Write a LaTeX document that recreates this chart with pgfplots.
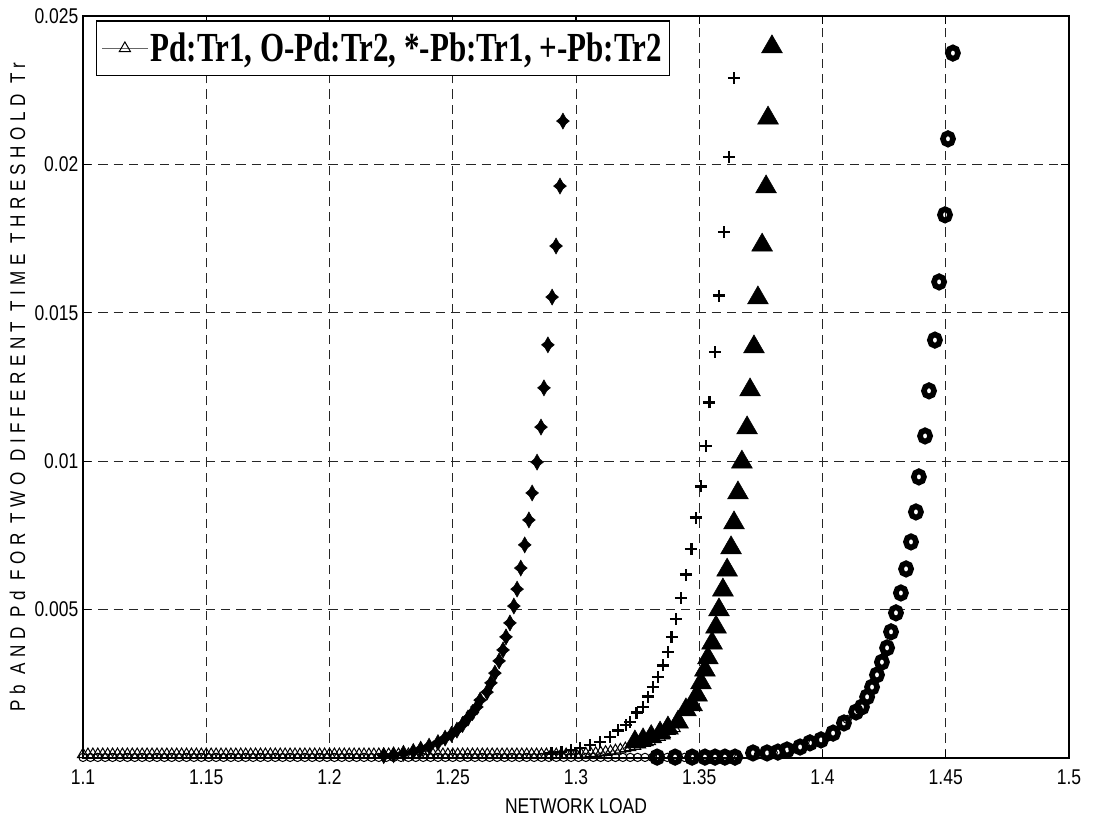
\documentclass[border=0pt]{standalone}
\usepackage{fontspec}
\setmainfont{Liberation Sans}[FakeStretch=0.82]
\newfontfamily\legfont{Liberation Serif}[FakeStretch=0.75]
\newfontfamily\ylabfont{Liberation Sans}[FakeStretch=0.8,LetterSpace=26]
\usepackage{pgfplots}
\pgfplotsset{compat=1.18}

% thick plus, as the MATLAB '+' marker looks here
\pgfdeclareplotmark{thickplus}{%
  \pgfsetlinewidth{2.1pt}%
  \pgfpathmoveto{\pgfqpoint{-\pgfplotmarksize}{0pt}}%
  \pgfpathlineto{\pgfqpoint{\pgfplotmarksize}{0pt}}%
  \pgfpathmoveto{\pgfqpoint{0pt}{-\pgfplotmarksize}}%
  \pgfpathlineto{\pgfqpoint{0pt}{\pgfplotmarksize}}%
  \pgfusepathqstroke}
% bold '*' marker: a filled four-point star
\pgfdeclareplotmark{fatstar}{%
  \pgfpathmoveto{\pgfqpoint{0pt}{\pgfplotmarksize}}%
  \pgfpathlineto{\pgfqpoint{0.36\pgfplotmarksize}{0.36\pgfplotmarksize}}%
  \pgfpathlineto{\pgfqpoint{0.8\pgfplotmarksize}{0pt}}%
  \pgfpathlineto{\pgfqpoint{0.36\pgfplotmarksize}{-0.36\pgfplotmarksize}}%
  \pgfpathlineto{\pgfqpoint{0pt}{-\pgfplotmarksize}}%
  \pgfpathlineto{\pgfqpoint{-0.36\pgfplotmarksize}{-0.36\pgfplotmarksize}}%
  \pgfpathlineto{\pgfqpoint{-0.8\pgfplotmarksize}{0pt}}%
  \pgfpathlineto{\pgfqpoint{-0.36\pgfplotmarksize}{0.36\pgfplotmarksize}}%
  \pgfpathclose
  \pgfusepathqfillstroke}

\begin{document}
\begin{tikzpicture}
\begin{axis}[
  scale only axis,
  width=739.5pt, height=556.5pt,
  xmin=1.1, xmax=1.5, ymin=0, ymax=0.025,
  xtick={1.1,1.15,1.2,1.25,1.3,1.35,1.4,1.45,1.5},
  xticklabels={1.1,1.15,1.2,1.25,1.3,1.35,1.4,1.45,1.5},
  ytick={0.005,0.01,0.015,0.02,0.025},
  yticklabels={0.005,0.01,0.015,0.02,0.025},
  scaled y ticks=false,
  tick align=inside, major tick length=6pt,
  grid=major,
  major grid style={black!85, line width=0.6pt, dash pattern=on 7pt off 4.5pt},
  axis line style={line width=1pt},
  every tick/.style={black, line width=0.8pt},
  ticklabel style={font=\fontsize{16}{19}\selectfont},
  xticklabel style={yshift=-5pt},
  label style={font=\fontsize{16}{19}\selectfont},
  xlabel={NETWORK LOAD},
  xlabel style={yshift=-4pt},
  ylabel={\ylabfont Pb AND Pd FOR TWO DIFFERENT TIME THRESHOLD Tr},
  legend style={at={(rel axis cs:0.0132,0.994)}, anchor=north west,
    draw=black, line width=0.8pt, fill=white, inner xsep=4pt, inner ysep=7pt,
    font=\fontsize{31}{34}\legfont\bfseries, cells={anchor=west}},
  legend image code/.code={\draw[mark repeat=2,mark phase=2,#1]
    plot coordinates {(0pt,0pt) (17pt,0pt) (34pt,0pt)};},
]
% Pd:Tr1 -- small open triangles with thin line
\addplot[black!60, line width=0.5pt, mark=triangle, mark size=4.8pt,
  mark options={black, solid, line width=0.75pt}] coordinates {
(1.100,0.00012)(1.102,0.00012)(1.104,0.00012)(1.106,0.00012)(1.108,0.00012)
(1.110,0.00012)(1.112,0.00012)(1.114,0.00012)(1.116,0.00012)(1.118,0.00012)
(1.120,0.00012)(1.122,0.00012)(1.124,0.00012)(1.126,0.00012)(1.128,0.00012)
(1.130,0.00012)(1.132,0.00012)(1.134,0.00012)(1.136,0.00012)(1.138,0.00012)
(1.140,0.00012)(1.142,0.00012)(1.144,0.00012)(1.146,0.00012)(1.148,0.00012)
(1.150,0.00012)(1.152,0.00012)(1.154,0.00012)(1.156,0.00012)(1.158,0.00012)
(1.160,0.00012)(1.162,0.00012)(1.164,0.00012)(1.166,0.00012)(1.168,0.00012)
(1.170,0.00012)(1.172,0.00012)(1.174,0.00012)(1.176,0.00012)(1.178,0.00012)
(1.180,0.00012)(1.182,0.00012)(1.184,0.00012)(1.186,0.00012)(1.188,0.00012)
(1.190,0.00012)(1.192,0.00012)(1.194,0.00012)(1.196,0.00012)(1.198,0.00012)
(1.200,0.00012)(1.202,0.00012)(1.204,0.00012)(1.206,0.00012)(1.208,0.00012)
(1.210,0.00012)(1.212,0.00012)(1.214,0.00012)(1.216,0.00012)(1.218,0.00012)
(1.220,0.00012)(1.222,0.00012)(1.224,0.00012)(1.226,0.00012)(1.228,0.00012)
(1.230,0.00012)(1.232,0.00012)(1.234,0.00012)(1.236,0.00012)(1.238,0.00012)
(1.240,0.00012)(1.242,0.00012)(1.244,0.00012)(1.246,0.00012)(1.248,0.00012)
(1.250,0.00012)(1.252,0.00012)(1.254,0.00012)(1.256,0.00012)(1.258,0.00012)
(1.260,0.00012)(1.262,0.00012)(1.264,0.00012)(1.266,0.00012)(1.268,0.00012)
(1.270,0.00012)(1.272,0.00012)(1.274,0.00012)(1.276,0.00012)(1.278,0.00012)
(1.280,0.00012)(1.282,0.00012)(1.284,0.00012)(1.286,0.00012)(1.288,0.00012)
(1.290,0.00012)(1.292,0.00012)(1.294,0.00012)(1.296,0.00012)(1.298,0.00012)
(1.300,0.00012)(1.302,0.00013)(1.304,0.00014)(1.306,0.00015)(1.308,0.00016)
(1.310,0.00018)(1.312,0.00020)(1.314,0.00022)(1.316,0.00025)(1.318,0.00028)
(1.320,0.00032)(1.322,0.00036)(1.324,0.00040)(1.326,0.00045)(1.328,0.00050)
(1.330,0.00056)(1.332,0.00063)(1.334,0.00070)(1.336,0.00080)(1.338,0.00090)
(1.340,0.00100)
};
\addlegendentry{Pd:Tr1, O-Pd:Tr2, *-Pb:Tr1, +-Pb:Tr2}

% small open circles along the bottom
\addplot[forget plot, only marks, mark=o, mark size=3.1pt,
  mark options={black, line width=0.75pt}] coordinates {
(1.100,0.00002)(1.103,0.00002)(1.106,0.00002)(1.109,0.00002)(1.112,0.00002)
(1.115,0.00002)(1.118,0.00002)(1.121,0.00002)(1.124,0.00002)(1.127,0.00002)
(1.130,0.00002)(1.133,0.00002)(1.136,0.00002)(1.139,0.00002)(1.142,0.00002)
(1.145,0.00002)(1.148,0.00002)(1.151,0.00002)(1.154,0.00002)(1.157,0.00002)
(1.160,0.00002)(1.163,0.00002)(1.166,0.00002)(1.169,0.00002)(1.172,0.00002)
(1.175,0.00002)(1.178,0.00002)(1.181,0.00002)(1.184,0.00002)(1.187,0.00002)
(1.190,0.00002)(1.193,0.00002)(1.196,0.00002)(1.199,0.00002)(1.202,0.00002)
(1.205,0.00002)(1.208,0.00002)(1.211,0.00002)(1.214,0.00002)(1.217,0.00002)
(1.220,0.00002)(1.223,0.00002)(1.226,0.00002)(1.229,0.00002)(1.232,0.00002)
(1.235,0.00002)(1.238,0.00002)(1.241,0.00002)(1.244,0.00002)(1.247,0.00002)
(1.250,0.00002)(1.253,0.00002)(1.256,0.00002)(1.259,0.00002)(1.262,0.00002)
(1.265,0.00002)(1.268,0.00002)(1.271,0.00002)(1.274,0.00002)(1.277,0.00002)
(1.280,0.00002)(1.283,0.00002)(1.286,0.00002)(1.289,0.00002)(1.292,0.00002)
(1.295,0.00002)(1.298,0.00002)(1.301,0.00002)(1.304,0.00002)(1.307,0.00002)
(1.310,0.00002)(1.313,0.00002)(1.316,0.00002)(1.319,0.00002)(1.322,0.00002)
(1.325,0.00002)(1.328,0.00002)(1.331,0.00002)(1.334,0.00002)(1.337,0.00002)
(1.340,0.00002)(1.344,0.00002)(1.348,0.00002)(1.352,0.00002)(1.356,0.00002)
(1.360,0.00002)(1.366,0.00004)(1.374,0.00012)(1.380,0.00018)(1.388,0.00030)
(1.396,0.00050)(1.402,0.00070)(1.410,0.00130)(1.414,0.00160)
};

% *-Pb:Tr1
\addplot[forget plot, only marks, mark=fatstar, mark size=6pt,
  mark options={black, fill=black, line width=0.4pt}] coordinates {
(1.2220,0.00008)(1.2260,0.00011)(1.2300,0.00016)(1.2340,0.00022)
(1.2370,0.00030)(1.2404,0.00040)(1.2440,0.00052)(1.2469,0.00067)
(1.2495,0.00080)(1.2517,0.00094)(1.2540,0.00113)(1.2562,0.00135)
(1.2580,0.00153)(1.2598,0.00172)(1.2611,0.00195)(1.2639,0.00222)
(1.2655,0.00253)(1.2671,0.00286)(1.2688,0.00327)(1.2704,0.00364)
(1.2716,0.00408)(1.2732,0.00455)(1.2748,0.00512)(1.2761,0.00569)
(1.2776,0.00640)(1.2792,0.00718)(1.2809,0.00802)(1.2822,0.00893)
(1.2842,0.00997)(1.2858,0.01115)(1.2870,0.01247)(1.2886,0.01392)
(1.2903,0.01553)(1.2919,0.01725)(1.2935,0.01927)(1.2947,0.02146)
};

% +-Pb:Tr2
\addplot[forget plot, only marks, mark=thickplus, mark size=4.6pt,
  mark options={black}] coordinates {
(1.2900,0.00015)(1.2940,0.00020)(1.2980,0.00027)(1.3016,0.00034)
(1.3057,0.00044)(1.3097,0.00054)(1.3138,0.00071)(1.3170,0.00094)
(1.3203,0.00111)(1.3219,0.00121)(1.3247,0.00152)(1.3272,0.00172)
(1.3292,0.00206)(1.3312,0.00239)(1.3333,0.00273)(1.3353,0.00313)
(1.3373,0.00357)(1.3389,0.00408)(1.3406,0.00468)(1.3426,0.00539)
(1.3446,0.00617)(1.3467,0.00704)(1.3487,0.00809)(1.3507,0.00916)
(1.3527,0.01051)(1.3540,0.01199)(1.3564,0.01368)(1.3580,0.01557)
(1.3600,0.01772)(1.3621,0.02025)(1.3641,0.02291)
};

% large filled triangles
\addplot[forget plot, only marks, mark=triangle*, mark size=9pt,
  mark options={black, fill=black}] coordinates {
(1.3239,0.00054)(1.3272,0.00061)(1.3305,0.00072)(1.3341,0.00084)
(1.3373,0.00101)(1.3414,0.00121)(1.3446,0.00162)(1.3471,0.00179)
(1.3491,0.00212)(1.3507,0.00253)(1.3523,0.00296)(1.3535,0.00337)
(1.3552,0.00387)(1.3568,0.00441)(1.3580,0.00499)(1.3596,0.00566)
(1.3613,0.00633)(1.3629,0.00708)(1.3641,0.00792)(1.3657,0.00893)
(1.3673,0.00997)(1.3694,0.01112)(1.3706,0.01240)(1.3722,0.01385)
(1.3738,0.01550)(1.3755,0.01728)(1.3771,0.01924)(1.3779,0.02156)
(1.3795,0.02396)
};

% O-Pd:Tr2 -- thick rings
\addplot[forget plot, only marks, mark=o, mark size=3.8pt,
  mark options={black, line width=4.2pt, yscale=1.12}] coordinates {
(1.3329,0.00003)(1.3402,0.00003)(1.3471,0.00003)(1.3523,0.00003)
(1.3564,0.00003)(1.3604,0.00003)(1.3645,0.00003)(1.3718,0.00017)
(1.3775,0.00017)(1.3819,0.00020)(1.3856,0.00027)(1.3909,0.00037)
(1.3949,0.00051)(1.3994,0.00061)(1.4043,0.00084)(1.4087,0.00118)
(1.4136,0.00155)(1.4160,0.00172)(1.4181,0.00206)(1.4201,0.00239)
(1.4221,0.00280)(1.4241,0.00323)(1.4262,0.00371)(1.4278,0.00425)
(1.4298,0.00489)(1.4318,0.00556)(1.4339,0.00637)(1.4359,0.00728)
(1.4379,0.00829)(1.4391,0.00947)(1.4416,0.01085)(1.4432,0.01237)
(1.4456,0.01408)(1.4473,0.01604)(1.4497,0.01830)(1.4509,0.02086)
(1.4529,0.02375)
};
\end{axis}
\pgfresetboundingbox
\path ([xshift=-62.25pt,yshift=-45.75pt]current axis.south west)
  rectangle ([xshift=20.25pt,yshift=12pt]current axis.north east);
\end{tikzpicture}
\end{document}
